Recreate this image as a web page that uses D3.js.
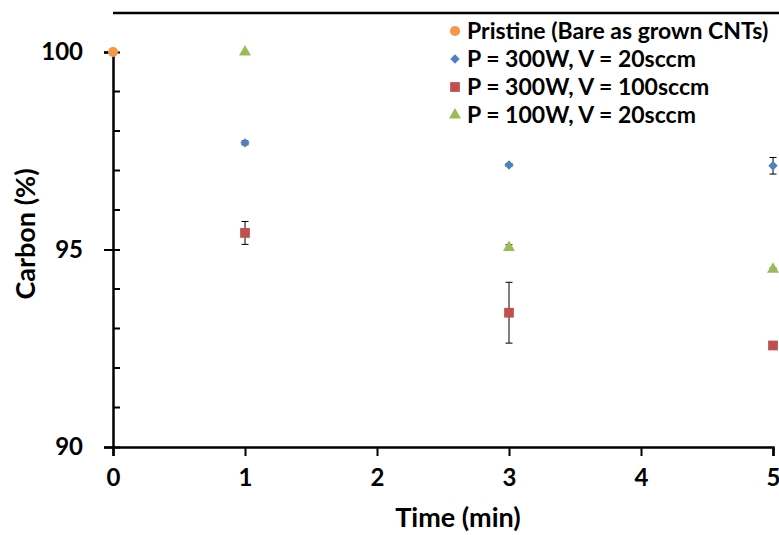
<!DOCTYPE html>
<html>
<head>
<meta charset="utf-8">
<script src="https://cdn.jsdelivr.net/npm/d3@7"></script>
<style>
  body { margin: 0; background: #fff; }
  svg text { font-family: Lato, "Open Sans", sans-serif; font-weight: bold; fill: #000; }
</style>
</head>
<body>
<svg width="779" height="535"></svg>
<script>
// data
var seriesNames = ['Pristine (Bare as grown CNTs)', 'P = 300W, V = 20sccm', 'P = 300W, V = 100sccm', 'P = 100W, V = 20sccm'];
var seriesColors = ['#F79646', '#4F81BD', '#C0504D', '#9BBB59'];
var seriesShapes = ['circle', 'diamond', 'square', 'triangle'];

var pristineTime = [0];
var pristineVal = [100];
var pristineErr = [0];

var times = [1, 3, 5];
var p300v20 = [97.70, 97.14, 97.12];
var p300v20Err = [0.05, 0.03, 0.21];
var p300v100 = [95.42, 93.40, 92.57];
var p300v100Err = [0.29, 0.77, 0];
var p100v20 = [100.0, 95.05, 94.50];
var p100v20Err = [0, 0.07, 0.03];

var xTicks = [0, 1, 2, 3, 4, 5];
var yTicks = [90, 95, 100];
var yMinor = [91, 92, 93, 94, 96, 97, 98, 99];

var series = [
	{ x: pristineTime, y: pristineVal, e: pristineErr },
	{ x: times, y: p300v20, e: p300v20Err },
	{ x: times, y: p300v100, e: p300v100Err },
	{ x: times, y: p100v20, e: p100v20Err }
];

var svg = d3.select('svg');
var x = d3.scaleLinear().domain([0, 5]).range([113, 773]);
var y = d3.scaleLinear().domain([90, 100]).range([447, 52]);

var symbolFor = {
	'circle': { d: d3.symbol().type(d3.symbolCircle).size(80)(), rot: 0 },
	'diamond': { d: d3.symbol().type(d3.symbolSquare).size(44)(), rot: 45 },
	'square': { d: d3.symbol().type(d3.symbolSquare).size(95)(), rot: 0 },
	'triangle': { d: d3.symbol().type(d3.symbolTriangle).size(62)(), rot: 0 }
};

// top frame line
svg.append('line')
	.attr('x1', 113).attr('x2', 779)
	.attr('y1', 13).attr('y2', 13)
	.attr('stroke', '#000').attr('stroke-width', 2.5);

// x axis
var xAxis = svg.append('g')
	.attr('transform', 'translate(0,447)')
	.call(d3.axisBottom(x).tickValues(xTicks).tickSize(9).tickPadding(13).tickFormat(d3.format('d')));
xAxis.select('.domain').attr('stroke-width', 2.5);
xAxis.selectAll('.tick line').attr('stroke-width', 2);
xAxis.selectAll('text').style('font-size', '24px');

// y axis, major ticks crossing
var yAxis = svg.append('g')
	.attr('transform', 'translate(113,0)')
	.call(d3.axisLeft(y).tickValues(yTicks).tickSize(9).tickPadding(21).tickFormat(d3.format('d')));
yAxis.select('.domain').attr('stroke-width', 2.5);
yAxis.selectAll('.tick line').attr('x2', 7).attr('x1', -9).attr('stroke-width', 2);
yAxis.selectAll('text').style('font-size', '24px');

// minor ticks inside
svg.append('g')
	.selectAll('line')
	.data(yMinor)
	.enter().append('line')
	.attr('x1', 113).attr('x2', 120)
	.attr('y1', function(d) { return y(d); })
	.attr('y2', function(d) { return y(d); })
	.attr('stroke', '#000').attr('stroke-width', 2);

// axis titles
svg.append('text')
	.attr('x', 458).attr('y', 527)
	.attr('text-anchor', 'middle')
	.style('font-size', '27px')
	.text('Time (min)');
svg.append('text')
	.attr('transform', 'translate(35,234) rotate(-90)')
	.attr('text-anchor', 'middle')
	.style('font-size', '27px')
	.text('Carbon (%)');

// error bars then markers
series.forEach(function(s, k) {
	var pts = s.x.map(function(t, i) { return { t: t, v: s.y[i], e: s.e[i] }; });
	var g = svg.append('g');
	var eb = g.selectAll('g.err').data(pts.filter(function(p) { return p.e > 0; }))
		.enter().append('g').attr('class', 'err');
	eb.append('line')
		.attr('x1', function(p) { return x(p.t); }).attr('x2', function(p) { return x(p.t); })
		.attr('y1', function(p) { return y(p.v + p.e); }).attr('y2', function(p) { return y(p.v - p.e); })
		.attr('stroke', '#000').attr('stroke-width', 1);
	[1, -1].forEach(function(sg) {
		eb.append('line')
			.attr('x1', function(p) { return x(p.t) - 3.5; }).attr('x2', function(p) { return x(p.t) + 3.5; })
			.attr('y1', function(p) { return y(p.v + sg * p.e); }).attr('y2', function(p) { return y(p.v + sg * p.e); })
			.attr('stroke', '#000').attr('stroke-width', 1);
	});
	var sym = symbolFor[seriesShapes[k]];
	g.selectAll('path').data(pts).enter().append('path')
		.attr('d', sym.d)
		.attr('transform', function(p) { return 'translate(' + x(p.t) + ',' + y(p.v) + ') rotate(' + sym.rot + ')'; })
		.attr('fill', seriesColors[k]);
});

// legend
var legend = svg.append('g');
var rowY = [31, 59, 87, 115];
seriesNames.forEach(function(n, k) {
	var sym = symbolFor[seriesShapes[k]];
	legend.append('path')
		.attr('d', sym.d)
		.attr('transform', 'translate(455,' + rowY[k] + ') rotate(' + sym.rot + ')')
		.attr('fill', seriesColors[k]);
	legend.append('text')
		.attr('x', 467).attr('y', rowY[k] + 8)
		.style('font-size', '23px')
		.text(n);
});
</script>
</body>
</html>
